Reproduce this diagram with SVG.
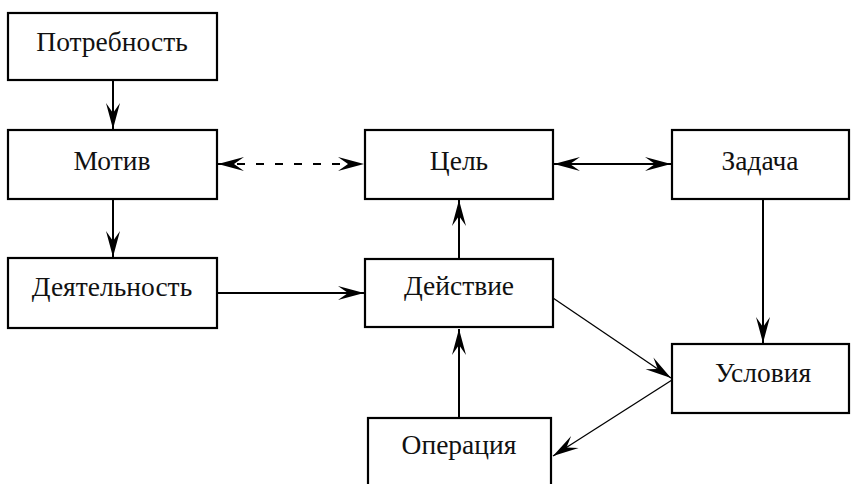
<svg xmlns="http://www.w3.org/2000/svg" width="851" height="484" viewBox="0 0 851 484">
<style>
.box{fill:#fff;stroke:#000;stroke-width:2.2}
.lbl{font-family:"Liberation Serif","Times New Roman",serif;font-size:27.5px;fill:#111;text-anchor:middle}
.ln{stroke:#000;stroke-width:2;fill:none}
.thin{stroke:#000;stroke-width:1.3;fill:none}
.dash{stroke-dasharray:8 11}
</style>
<defs>
<marker id="ah" markerUnits="userSpaceOnUse" markerWidth="30" markerHeight="16" viewBox="-27 -8 28 16" refX="0" refY="0" orient="auto-start-reverse">
<path d="M0,0 L-26,-7 L-16,0 L-26,7 Z" fill="#000"/>
</marker>
</defs>
<rect width="851" height="484" fill="#fff"/>
<g id="connectors">
<line class="ln" x1="113" y1="80" x2="113" y2="129" marker-end="url(#ah)"/>
<line class="ln dash" x1="218" y1="164" x2="364" y2="164" marker-start="url(#ah)" marker-end="url(#ah)"/>
<line class="ln" x1="554" y1="164" x2="671" y2="164" marker-start="url(#ah)" marker-end="url(#ah)"/>
<line class="ln" x1="113" y1="199" x2="113" y2="257" marker-end="url(#ah)"/>
<line class="ln" x1="217" y1="293" x2="364" y2="293" marker-end="url(#ah)"/>
<line class="ln" x1="459" y1="259" x2="459" y2="200" marker-end="url(#ah)"/>
<line class="ln" x1="459" y1="418" x2="459" y2="329" marker-end="url(#ah)"/>
<line class="ln" x1="763" y1="199" x2="763" y2="343" marker-end="url(#ah)"/>
<line class="thin" x1="553" y1="298" x2="671" y2="378" marker-end="url(#ah)"/>
<line class="thin" x1="672" y1="380" x2="553" y2="456" marker-end="url(#ah)"/>
</g>
<g id="n-potrebnost"><rect class="box" x="8" y="13" width="209" height="67"/><text class="lbl" x="112" y="51">Потребность</text></g>
<g id="n-motiv"><rect class="box" x="8" y="130" width="209" height="69"/><text class="lbl" x="112" y="170">Мотив</text></g>
<g id="n-deyatelnost"><rect class="box" x="8" y="258" width="209" height="70"/><text class="lbl" x="112" y="296">Деятельность</text></g>
<g id="n-tsel"><rect class="box" x="365" y="130" width="188" height="69"/><text class="lbl" x="459" y="170">Цель</text></g>
<g id="n-deystvie"><rect class="box" x="365" y="259" width="188" height="68"/><text class="lbl" x="459" y="295">Действие</text></g>
<g id="n-zadacha"><rect class="box" x="672" y="130" width="177" height="69"/><text class="lbl" x="760" y="170">Задача</text></g>
<g id="n-usloviya"><rect class="box" x="672" y="344" width="177" height="69"/><text class="lbl" x="763" y="382">Условия</text></g>
<g id="n-operatsiya"><rect class="box" x="368" y="418" width="183" height="80"/><text class="lbl" x="459" y="454">Операция</text></g>
</svg>
